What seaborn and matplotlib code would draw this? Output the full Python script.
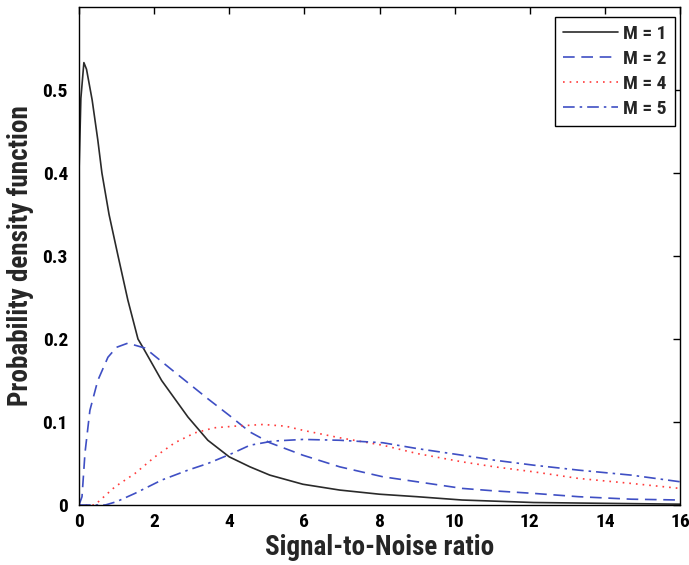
import numpy as np
import pandas as pd
import matplotlib
matplotlib.use("Agg")
import matplotlib.pyplot as plt
from matplotlib import font_manager as fm
import seaborn as sns

# ---- data ----
x_m1 = [0.0, 0.05, 0.13, 0.2, 0.35, 0.5, 0.61, 0.8, 1.04, 1.3, 1.57, 1.7, 2.2, 2.9, 3.43, 4.0, 4.55, 5.08, 5.96, 6.94, 8.0, 9.0, 10.2, 12.1, 14.0, 16.0]
y_m1 = [0.40, 0.49, 0.533, 0.525, 0.488, 0.44, 0.40, 0.35, 0.30, 0.247, 0.20, 0.19, 0.15, 0.106, 0.078, 0.058, 0.046, 0.036, 0.025, 0.018, 0.013, 0.010, 0.006, 0.003, 0.002, 0.001]

x_m2 = [0.0, 0.08, 0.16, 0.29, 0.5, 0.77, 1.0, 1.3, 1.76, 2.55, 3.43, 4.0, 4.55, 5.08, 5.96, 6.94, 8.09, 9.0, 10.2, 11.06, 12.1, 13.3, 14.7, 16.0]
y_m2 = [0.0, 0.01, 0.063, 0.114, 0.15, 0.178, 0.19, 0.195, 0.189, 0.16, 0.128, 0.108, 0.088, 0.075, 0.06, 0.046, 0.034, 0.028, 0.020, 0.017, 0.014, 0.010, 0.007, 0.006]

x_m4 = [0.0, 0.42, 0.96, 1.49, 2.02, 2.55, 3.09, 3.6, 4.15, 4.9, 5.5, 5.96, 6.94, 8.09, 9.0, 10.2, 11.06, 12.1, 13.3, 14.7, 16.0]
y_m4 = [0.0, 0.0, 0.022, 0.038, 0.058, 0.075, 0.087, 0.093, 0.095, 0.097, 0.095, 0.09, 0.081, 0.072, 0.062, 0.052, 0.046, 0.040, 0.032, 0.026, 0.020]

x_m5 = [0.0, 0.7, 1.0, 1.49, 2.2, 2.9, 3.43, 4.07, 4.55, 5.16, 5.96, 6.94, 8.09, 9.0, 10.2, 11.06, 12.1, 13.3, 14.7, 16.0]
y_m5 = [0.0, 0.0, 0.004, 0.014, 0.030, 0.042, 0.050, 0.062, 0.072, 0.077, 0.079, 0.078, 0.075, 0.068, 0.060, 0.054, 0.048, 0.042, 0.036, 0.028]

series_labels = ["M = 1", "M = 2", "M = 4", "M = 5"]
x_ticks = [0, 2, 4, 6, 8, 10, 12, 14, 16]
y_ticks = [0, 0.1, 0.2, 0.3, 0.4, 0.5]
y_tick_labels = ["0", "0.1", "0.2", "0.3", "0.4", "0.5"]

frames = []
for lab, xs, ys in zip(series_labels, [x_m1, x_m2, x_m4, x_m5], [y_m1, y_m2, y_m4, y_m5]):
    frames.append(pd.DataFrame({"snr": xs, "pdf": ys, "M": lab}))
df = pd.concat(frames, ignore_index=True)

# pick a condensed sans if one is installed
fonts = fm.fontManager.ttflist
names = {f.name for f in fonts}
stretch = "normal"
if "Liberation Sans Narrow" in names:
    family = "Liberation Sans Narrow"
    sz_tick, sz_lab, sz_leg = 14, 20, 14
elif "Roboto Condensed" in names:
    family = "Roboto Condensed"
    sz_tick, sz_lab, sz_leg = 14, 19.5, 14
elif any(f.name == "DejaVu Sans" and "condensed" in str(f.stretch) for f in fonts):
    family = "DejaVu Sans"
    stretch = "condensed"
    sz_tick, sz_lab, sz_leg = 12.5, 17.5, 12.5
else:
    family = "Liberation Sans"
    sz_tick, sz_lab, sz_leg = 12, 17, 12.5

sns.set_style("white")
plt.rcParams["font.family"] = [family, "DejaVu Sans"]
plt.rcParams["font.weight"] = "bold"
plt.rcParams["font.stretch"] = stretch

fig = plt.figure(figsize=(6.89, 5.65), dpi=100)
ax = fig.add_axes([79 / 689, 60 / 565, 601 / 689, 498 / 565])

palette = {"M = 1": "#2a2a2a", "M = 2": "#3f4fc4", "M = 4": "#ff3b3b", "M = 5": "#3f4fc4"}
dashes = {"M = 1": "", "M = 2": (7, 4), "M = 4": (1, 3), "M = 5": (7, 3, 1.5, 3)}

sns.lineplot(data=df, x="snr", y="pdf", hue="M", style="M", palette=palette,
             dashes=dashes, sort=False, estimator=None, linewidth=1.2, ax=ax,
             hue_order=series_labels, style_order=series_labels)

ax.set_xlim(0, 16)
ax.set_ylim(0, 0.6)
ax.set_xticks(x_ticks)
ax.set_xticklabels([str(t) for t in x_ticks], fontweight="bold", fontstretch=stretch)
ax.set_yticks(y_ticks)
ax.set_yticklabels(y_tick_labels, fontweight="bold", fontstretch=stretch)
ax.tick_params(axis="both", direction="in", length=5, width=1, top=True, right=True,
               labelsize=sz_tick, colors="black")
ax.tick_params(axis="x", pad=6)
ax.tick_params(axis="y", pad=8)
for s in ax.spines.values():
    s.set_visible(True)
    s.set_color("black")
    s.set_linewidth(1.0)

ax.set_xlabel("Signal-to-Noise ratio", fontsize=sz_lab, fontweight="bold",
              fontstretch=stretch, labelpad=2)
ax.set_ylabel("Probability density function", fontsize=sz_lab, fontweight="bold",
              fontstretch=stretch, labelpad=6)

leg = ax.legend(loc="upper right", bbox_to_anchor=(0.9917, 0.980),
                prop={"size": sz_leg, "weight": "bold", "stretch": stretch},
                frameon=True, fancybox=False, framealpha=1, edgecolor="black",
                handlelength=2.85, handletextpad=0.26, borderpad=0.42, labelspacing=0.36,
                borderaxespad=0.0)
leg.get_frame().set_linewidth(1.0)

fig.savefig("out.png", dpi=100)
